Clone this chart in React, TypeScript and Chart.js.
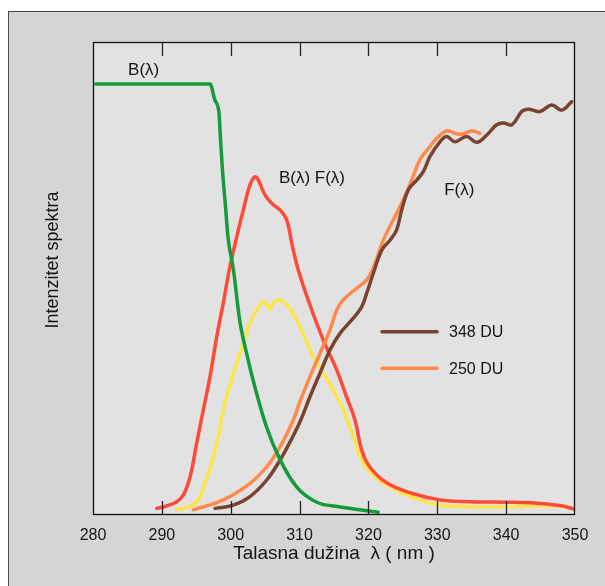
import React, { useEffect, useRef } from 'react';
import { Chart, registerables } from 'chart.js';

Chart.register(...registerables);

// ---- axis ----
const xMin = 280;
const xMax = 350;
const xStep = 10;
const innerTickValues = [290, 300, 310, 320, 330, 340];

// ---- B(lambda) : green ----
const bX = [280.4, 297.0, 297.7, 298.3, 298.5, 298.8, 299.2, 299.6, 300.4, 301.3, 302.3, 303.5, 305.2, 307.2, 309.6, 312.5, 315.9, 321.4];
const bY = [91.1, 91.1, 87.7, 85.0, 79.9, 72.9, 66.0, 58.8, 51.8, 41.2, 34.2, 27.1, 18.6, 11.6, 5.9, 2.7, 1.7, 0.6];

// ---- B(lambda)F(lambda) 250 DU : red ----
const bfRedX = [289.25, 290.46, 292.16, 293.11, 293.84, 294.33, 295.06, 296.02, 296.99, 297.96, 298.92, 299.79, 300.87, 301.83, 302.8, 303.53, 304.01, 304.98, 305.95, 307.16, 308.13, 308.86, 309.81, 311.51, 313.44, 315.39, 316.84, 318.05, 319.02, 320.23, 322.65, 326.04, 330.39, 334.75, 340.56, 344.43, 347.82, 349.75];
const bfRedY = [1.4, 1.8, 2.8, 4.2, 6.8, 9.5, 15.2, 22.2, 29.2, 37.6, 44.8, 51.8, 58.8, 64.5, 69.8, 71.5, 70.8, 67.7, 65.9, 64.5, 62.4, 57.5, 51.8, 44.4, 37.0, 30.7, 24.9, 20.1, 13.7, 10.1, 6.8, 4.7, 3.2, 2.8, 2.7, 2.5, 2.0, 1.3];

// ---- B(lambda)F(lambda) 348 DU : yellow ----
const bfYellowX = [292.16, 294.09, 295.29, 296.26, 297.24, 298.2, 298.92, 299.65, 300.87, 301.83, 302.8, 303.77, 304.73, 305.23, 305.7, 306.18, 306.91, 308.13, 309.58, 310.79, 311.99, 313.44, 314.9, 316.35, 317.8, 319.25, 321.2, 324.58, 327.49, 330.39, 334.75, 340.56, 344.43, 348.79];
const bfYellowY = [1.2, 1.8, 3.2, 6.8, 11.0, 16.5, 22.2, 26.4, 32.1, 36.4, 40.6, 43.3, 45.1, 44.4, 43.5, 44.8, 45.5, 44.4, 41.2, 37.4, 33.4, 30.0, 26.4, 22.2, 16.6, 11.0, 7.8, 4.9, 3.2, 2.1, 1.75, 1.75, 1.95, 1.9];

// ---- F(lambda) 250 DU : orange ----
const f250X = [294.57, 298.92, 302.8, 305.23, 307.16, 309.09, 310.06, 311.51, 312.97, 314.42, 315.39, 316.35, 318.29, 319.75, 320.71, 322.16, 323.61, 324.83, 326.28, 327.49, 328.94, 329.9, 331.36, 332.57, 333.54, 334.99, 336.2];
const f250Y = [1.1, 3.2, 6.7, 10.2, 14.4, 20.1, 24.0, 29.2, 34.2, 39.1, 43.3, 45.5, 47.9, 49.7, 52.2, 58.1, 62.4, 65.9, 70.8, 75.1, 77.9, 79.6, 81.2, 80.7, 80.5, 81.2, 80.7];

// ---- F(lambda) 348 DU : brown ----
const f348X = [297.72, 300.37, 302.8, 305.23, 307.16, 308.6, 310.06, 311.51, 312.97, 314.42, 315.87, 317.8, 319.02, 319.75, 320.71, 321.93, 323.13, 324.1, 324.83, 325.79, 327.01, 327.97, 328.94, 330.39, 331.37, 332.57, 334.27, 335.71, 337.17, 338.62, 339.58, 340.85, 342.26, 343.21, 344.91, 346.61, 348.07, 349.52];
const f348Y = [1.4, 2.1, 3.9, 7.4, 11.6, 15.4, 19.7, 25.0, 30.0, 34.9, 38.4, 41.6, 44.0, 46.9, 51.1, 56.0, 58.1, 60.3, 64.5, 68.7, 70.8, 72.6, 75.8, 78.9, 80.0, 78.9, 80.0, 78.8, 80.3, 82.5, 82.9, 82.5, 85.3, 85.8, 85.3, 86.7, 85.6, 87.4];

const legendLabels = ['348 DU', '250 DU'];
const curveLabels = ['B(\u03bb)', 'B(\u03bb) F(\u03bb)', 'F(\u03bb)'];
const xTitle = 'Talasna du\u017eina  \u03bb ( nm )';
const yTitle = 'Intenzitet spektra';

const toPts = (xs: number[], ys: number[]) => xs.map((x, i) => ({ x, y: ys[i] }));

const FONT = '"Liberation Sans", Arial, sans-serif';
const TEXT = '#151515';
const C_GREEN = '#169a3b';
const C_RED = '#ff4a3a';
const C_YELLOW = '#fde64c';
const C_ORANGE = '#ff8a4c';
const C_BROWN = '#7a4331';

const decorPlugin = {
  id: 'decor',
  beforeDraw(chart: any) {
    const { ctx, chartArea: a } = chart;
    ctx.save();
    ctx.fillStyle = '#e2e2e2';
    ctx.fillRect(a.left, a.top, a.right - a.left, a.bottom - a.top);
    ctx.restore();
  },
  afterDatasetsDraw(chart: any) {
    const { ctx, chartArea: a, scales } = chart;
    const xs = scales.x;
    const ys = scales.y;
    ctx.save();
    // frame
    ctx.strokeStyle = '#111';
    ctx.lineWidth = 1.3;
    ctx.strokeRect(a.left + 0.5, a.top + 0.5, a.right - a.left - 1, a.bottom - a.top - 1);
    // inner ticks top and bottom
    ctx.strokeStyle = '#222';
    innerTickValues.forEach((v) => {
      const px = Math.round(xs.getPixelForValue(v)) + 0.5;
      ctx.beginPath();
      ctx.moveTo(px, a.bottom);
      ctx.lineTo(px, a.bottom - 14);
      ctx.moveTo(px, a.top);
      ctx.lineTo(px, a.top + 14);
      ctx.stroke();
    });
    // curve labels
    ctx.fillStyle = TEXT;
    ctx.font = `17px ${FONT}`;
    ctx.textBaseline = 'middle';
    ctx.textAlign = 'left';
    ctx.fillText(curveLabels[0], xs.getPixelForValue(285.1), ys.getPixelForValue(94.1));
    ctx.fillText(curveLabels[1], xs.getPixelForValue(307.0), ys.getPixelForValue(71.2));
    ctx.fillText(curveLabels[2], xs.getPixelForValue(331.0), ys.getPixelForValue(68.7));
    // legend
    const legendDs = chart.data.datasets.filter((d: any) => d.inLegend);
    const legendY = [38.75, 31.0];
    ctx.font = `16px ${FONT}`;
    legendDs.forEach((d: any, i: number) => {
      const yy = ys.getPixelForValue(legendY[i]);
      ctx.strokeStyle = d.borderColor;
      ctx.lineWidth = 3.5;
      ctx.lineCap = 'round';
      ctx.beginPath();
      ctx.moveTo(xs.getPixelForValue(321.97), yy);
      ctx.lineTo(xs.getPixelForValue(329.96), yy);
      ctx.stroke();
      ctx.fillStyle = TEXT;
      ctx.fillText(d.label, xs.getPixelForValue(331.7), yy + 1);
    });
    // y title
    ctx.font = `18px ${FONT}`;
    ctx.textAlign = 'center';
    ctx.translate(53, 260);
    ctx.rotate(-Math.PI / 2);
    ctx.fillText(yTitle, 0, 0);
    ctx.restore();
  },
};

export default function App() {
  const ref = useRef<HTMLCanvasElement | null>(null);
  useEffect(() => {
    if (!ref.current) return;
    const line = (label: string, xs: number[], ys: number[], color: string, monotone = false, inLegend = false) => ({
      label,
      data: toPts(xs, ys),
      borderColor: color,
      backgroundColor: color,
      borderWidth: 3.5,
      pointRadius: 0,
      fill: false,
      tension: 0.4,
      cubicInterpolationMode: monotone ? ('monotone' as const) : ('default' as const),
      borderCapStyle: 'round' as const,
      borderJoinStyle: 'round' as const,
      inLegend,
    });
    const chart = new Chart(ref.current, {
      type: 'line',
      data: {
        datasets: [
          line('B', bX, bY, C_GREEN, true),
          line(legendLabels[0], f348X, f348Y, C_BROWN, false, true),
          line(legendLabels[1], f250X, f250Y, C_ORANGE, false, true),
          line('BF 250', bfRedX, bfRedY, C_RED),
          line('BF 348', bfYellowX, bfYellowY, C_YELLOW),
        ] as any,
      },
      options: {
        animation: false,
        responsive: false,
        maintainAspectRatio: false,
        layout: { padding: { left: 93, top: 42, right: 30, bottom: 0 } },
        plugins: { legend: { display: false }, tooltip: { enabled: false } },
        scales: {
          x: {
            type: 'linear',
            min: xMin,
            max: xMax,
            grid: { display: false, drawTicks: false },
            border: { display: false },
            ticks: { stepSize: xStep, padding: 11, color: TEXT, font: { family: FONT, size: 16 } },
            title: {
              display: true,
              text: xTitle,
              color: TEXT,
              font: { family: FONT, size: 19 },
              padding: { top: 0, bottom: 21 },
            },
            afterFit: (s: any) => { s.height = 71; },
          },
          y: { type: 'linear', display: false, min: 0, max: 100 },
        },
      },
      plugins: [decorPlugin],
    });
    return () => chart.destroy();
  }, []);
  return (
    <div style={{ position: 'fixed', left: 0, top: 0, width: 605, height: 586, background: '#fff', overflow: 'hidden' }}>
      <div style={{ position: 'absolute', left: 8, top: 11, width: 620, height: 600, background: '#d5d5d5', borderLeft: '1px solid #4a4a4a', borderTop: '1px solid #4a4a4a' }} />
      <canvas ref={ref} width={605} height={586} style={{ position: 'absolute', left: 0, top: 0, width: 605, height: 586 }} />
    </div>
  );
}
